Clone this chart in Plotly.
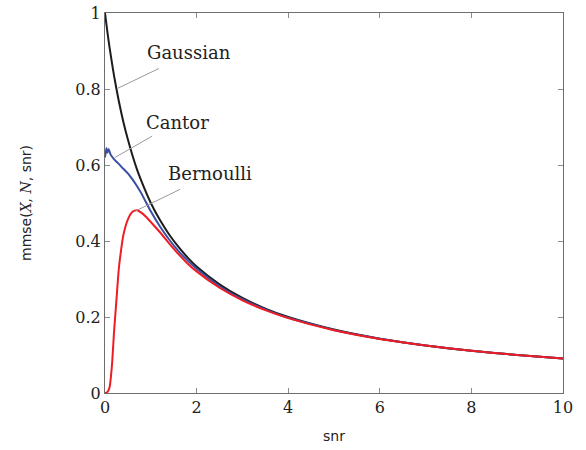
import plotly.graph_objects as go

# Gaussian
gauss_x = [0, 0.05, 0.1, 0.15, 0.2, 0.3, 0.4, 0.5, 0.6, 0.7, 0.8, 1.0, 1.2, 1.4, 1.6, 1.8,
           2.0, 2.5, 3, 3.5, 4, 5, 6, 7, 8, 9, 10]
gauss_y = [1.0, 0.952, 0.909, 0.870, 0.833, 0.769, 0.714, 0.667, 0.625, 0.588, 0.556, 0.500,
           0.455, 0.417, 0.385, 0.357, 0.333, 0.286, 0.250, 0.222, 0.200, 0.167, 0.143, 0.125,
           0.111, 0.100, 0.0909]

# Cantor
cantor_x = [0, 0.03, 0.05, 0.08, 0.12, 0.2, 0.3, 0.4, 0.5, 0.6, 0.7, 0.8, 1.0, 1.2, 1.4, 1.6,
            1.8, 2.0, 2.5, 3, 3.5, 4, 5, 6, 7, 8, 9, 10]
cantor_y = [0.620, 0.645, 0.632, 0.642, 0.628, 0.615, 0.603, 0.590, 0.578, 0.562, 0.544, 0.524,
            0.478, 0.438, 0.404, 0.374, 0.349, 0.327, 0.281, 0.247, 0.220, 0.198, 0.166, 0.143,
            0.125, 0.111, 0.100, 0.0908]

# Bernoulli
bern_x = [0, 0.05, 0.1, 0.15, 0.2, 0.25, 0.3, 0.35, 0.4, 0.5, 0.6, 0.7, 0.8, 0.9, 1.0, 1.2, 1.4,
          1.6, 1.8, 2.0, 2.5, 3, 3.5, 4, 5, 6, 7, 8, 9, 10]
bern_y = [0.0, 0.002, 0.015, 0.07, 0.165, 0.245, 0.325, 0.375, 0.415, 0.457, 0.477, 0.481,
          0.474, 0.463, 0.450, 0.423, 0.394, 0.366, 0.341, 0.320, 0.277, 0.244, 0.218, 0.197,
          0.165, 0.142, 0.125, 0.111, 0.100, 0.0905]

x_ticks = [0, 2, 4, 6, 8, 10]
y_ticks = [0, 0.2, 0.4, 0.6, 0.8, 1]
y_tick_text = ["0", "0.2", "0.4", "0.6", "0.8", "1"]

SERIF = "DejaVu Serif"
SANS = "DejaVu Sans"

fig = go.Figure()
fig.add_trace(go.Scatter(x=gauss_x, y=gauss_y, mode="lines", name="Gaussian",
                         line=dict(color="#1c1c1c", width=2, shape="spline", smoothing=0.6)))
fig.add_trace(go.Scatter(x=cantor_x, y=cantor_y, mode="lines", name="Cantor",
                         line=dict(color="#3a4ea3", width=2, shape="spline", smoothing=0.4)))
fig.add_trace(go.Scatter(x=bern_x, y=bern_y, mode="lines", name="Bernoulli",
                         line=dict(color="#ee1d23", width=2, shape="spline", smoothing=0.6)))

# label leader lines
pins = [
    ("Gaussian", (0.28, 0.802), (1.18, 0.854), (1.83, 0.897)),
    ("Cantor", (0.22, 0.620), (1.03, 0.676), (1.58, 0.713)),
    ("Bernoulli", (0.65, 0.478), (1.64, 0.536), (2.29, 0.577)),
]
for name, p0, p1, pt in pins:
    fig.add_shape(type="line", x0=p0[0], y0=p0[1], x1=p1[0], y1=p1[1],
                  line=dict(color="#9a9a9a", width=1))
    fig.add_annotation(x=pt[0], y=pt[1], text=name, showarrow=False,
                       font=dict(family=SERIF, size=18, color="#222"))

axis_common = dict(showgrid=False, zeroline=False, showline=True, linecolor="#6e6e6e",
                   linewidth=1, mirror="ticks", ticks="inside", ticklen=5, tickcolor="#8a8a8a",
                   automargin=False,
                   tickfont=dict(family=SERIF, size=16, color="#222"))

fig.update_xaxes(range=[0, 10], tickvals=x_ticks, **axis_common)
fig.update_yaxes(range=[0, 1], tickvals=y_ticks, ticktext=y_tick_text, **axis_common)

# axis titles
fig.add_annotation(xref="paper", yref="paper", x=0.5, y=0, yshift=-53, text="snr",
                   showarrow=False, font=dict(family=SANS, size=14, color="#222"))
fig.add_annotation(xref="paper", yref="paper", x=0, y=0.5, xshift=-79, textangle=-90,
                   xanchor="center", yanchor="middle",
                   text="mmse(<span style='font-family:DejaVu Serif'><i>X</i>, <i>N</i></span>, snr)",
                   showarrow=False, font=dict(family=SANS, size=14, color="#222"))

fig.update_layout(width=586, height=450, margin=dict(l=105, r=23, t=13, b=57),
                  plot_bgcolor="white", paper_bgcolor="white", showlegend=False)

fig.write_html("out.html", config={"displayModeBar": False},
               post_script="document.body.style.margin='0';")
